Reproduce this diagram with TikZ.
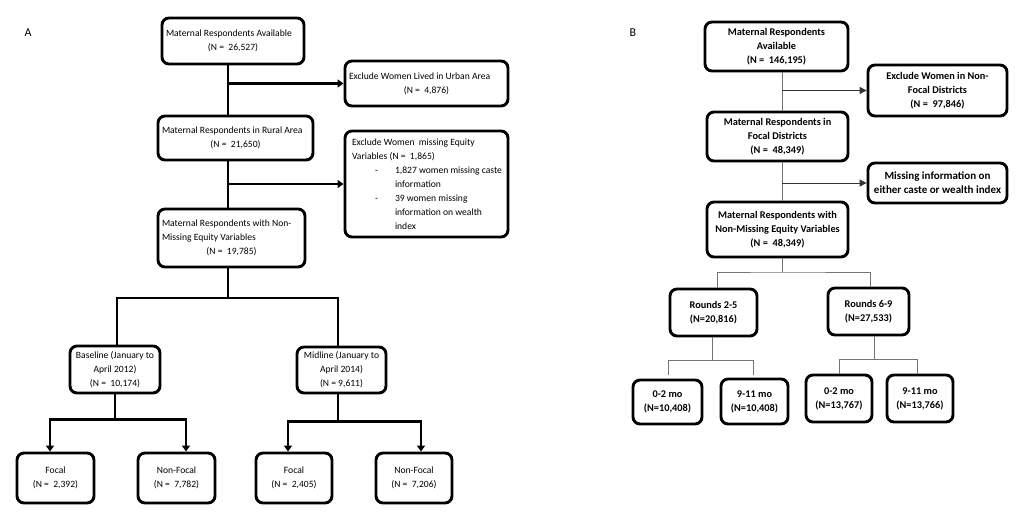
\documentclass[tikz,border=0pt]{standalone}
\usepackage{fontspec}
\setmainfont{Carlito}
\usetikzlibrary{arrows.meta,calc}
\newcommand\lcbox[3]{\parbox{#1pt}{\raggedright #2\par\centering #3\par}}
\begin{document}
\begin{tikzpicture}[x=1pt,y=-1pt,
  boxA/.style={draw, line width=2.9pt, rounded corners=7pt, inner sep=0pt, align=center, font=\fontsize{9.6}{14}\selectfont},
  boxB/.style={draw, line width=2.9pt, rounded corners=7pt, inner sep=0pt, align=center, font=\fontsize{10.3}{14}\selectfont\bfseries},
  lineA/.style={line width=2.3pt},
  arrA/.style={lineA, -{Triangle[length=6pt,width=8pt]}},
  lineB/.style={line width=1pt, draw=black!55},
  arrB/.style={line width=1pt, draw=black!80, -{Triangle[length=7pt,width=7pt]}},
  lab/.style={font=\fontsize{12}{14}\selectfont}
]
\useasboundingbox (0,0) rectangle (1024,517);

% ---------- Panel A ----------
\node[lab] (lA) at (28,33) {A};
\node[boxA, minimum width=142pt, minimum height=46pt] (a1) at (233,41)
  {\lcbox{134}{Maternal Respondents Available}{(N = \ 26,527)}};
\node[boxA, minimum width=163pt, minimum height=45pt] (ex1) at (426.5,83.5)
  {\lcbox{155}{Exclude Women Lived in Urban Area}{(N = \ 4,876)}};
\node[boxA, minimum width=155pt, minimum height=44pt] (a2) at (235.5,138)
  {\lcbox{147}{Maternal Respondents in Rural Area}{(N = \ 21,650)}};
\node[boxA, minimum width=163pt, minimum height=106pt] (ex2) at (426.5,184)
  {\parbox{149pt}{\raggedright Exclude Women \ missing Equity\\
   Variables (N = \ 1,865)\\
   \mbox{\makebox[43pt][l]{\hspace*{23pt}-}1,827 women missing caste}\\
   \hspace*{43pt}information\\
   \mbox{\makebox[43pt][l]{\hspace*{23pt}-}39 women missing}\\
   \hspace*{43pt}information on wealth\\
   \hspace*{43pt}index}};
\node[boxA, minimum width=147pt, minimum height=58pt] (a3) at (231.5,238)
  {\lcbox{139}{Maternal Respondents with Non-\\Missing Equity Variables}{(N = \ 19,785)}};
\node[boxA, minimum width=90pt, minimum height=47pt] (base) at (115,369.5)
  {Baseline (January to\\April 2012)\\(N = \ 10,174)};
\node[boxA, minimum width=89pt, minimum height=46pt] (mid) at (341.5,370)
  {Midline (January to\\April 2014)\\(N = 9,611)};
\node[boxA, minimum width=77pt, minimum height=50pt] (fa) at (55.5,478) {Focal\\(N = \ 2,392)};
\node[boxA, minimum width=77pt, minimum height=50pt] (fb) at (176.5,478) {Non-Focal\\(N = \ 7,782)};
\node[boxA, minimum width=76pt, minimum height=50pt] (fc) at (294,478) {Focal\\(N = \ 2,405)};
\node[boxA, minimum width=76pt, minimum height=50pt] (fd) at (414,478) {Non-Focal\\(N = \ 7,206)};

\coordinate (tA) at (228,0);
\coordinate (sA) at (228,298);
\draw[lineA] (tA |- a1.south) -- (tA |- a2.north);
\draw[arrA] (tA |- ex1.west) -- (ex1.west);
\draw[lineA] (tA |- a2.south) -- (tA |- a3.north);
\draw[arrA] (tA |- ex2.west) -- (ex2.west);
\draw[lineA] (tA |- a3.south) -- (sA);
\draw[lineA] ($(base.north)+(2,0)$) |- (sA) -| ($(mid.north)+(-3.5,0)$);
\draw[lineA] (base.south) -- ++(0,25) coordinate (jb);
\draw[arrA] (jb) -| ($(fa.north)+(-5.5,0)$);
\draw[arrA] (jb) -| ($(fb.north)+(9.5,0)$);
\draw[lineA] ($(mid.south)+(-3.5,0)$) -- ++(0,27) coordinate (jm);
\draw[arrA] (jm) -| ($(fc.north)+(-6,0)$);
\draw[arrA] (jm) -| ($(fd.north)+(7,0)$);

% ---------- Panel B ----------
\node[lab] (lB) at (633,33) {B};
\node[boxB, minimum width=143pt, minimum height=49pt] (b1) at (776.5,46.5)
  {Maternal Respondents\\Available\\(N = \ 146,195)};
\node[boxB, minimum width=139pt, minimum height=51pt] (eb1) at (937.5,90.5)
  {Exclude Women in Non-\\Focal Districts\\(N = \ 97,846)};
\node[boxB, minimum width=141pt, minimum height=49pt] (b2) at (777.5,136.5)
  {Maternal Respondents in\\Focal Districts\\(N = \ 48,349)};
\node[boxB, minimum width=139pt, minimum height=40pt, font=\fontsize{11}{14}\selectfont\bfseries] (eb2) at (937.5,183)
  {Missing information on\\either caste or wealth index};
\node[boxB, minimum width=141pt, minimum height=55pt] (b3) at (777.5,229.5)
  {Maternal Respondents with\\Non-Missing Equity Variables\\(N = \ 48,349)};
\node[boxB, minimum width=87pt, minimum height=47pt] (r1) at (713.5,312.5) {Rounds 2-5\\(N=20,816)};
\node[boxB, minimum width=81pt, minimum height=47pt] (r2) at (868.5,311.5) {Rounds 6-9\\(N=27,533)};
\node[boxB, minimum width=69pt, minimum height=44pt] (c1) at (667.5,402) {0-2 mo\\(N=10,408)};
\node[boxB, minimum width=67pt, minimum height=45pt] (c2) at (754.5,401.5) {9-11 mo\\(N=10,408)};
\node[boxB, minimum width=66pt, minimum height=47pt] (c3) at (839,398.5) {0-2 mo\\(N=13,767)};
\node[boxB, minimum width=66pt, minimum height=47pt] (c4) at (920,398.5) {9-11 mo\\(N=13,766)};

\coordinate (tB) at (782,0);
\coordinate (sB) at (782,272);
\draw[lineB] (tB |- b1.south) -- (tB |- b2.north);
\draw[arrB] (tB |- eb1.west) -- (eb1.west);
\draw[lineB] (tB |- b2.south) -- (tB |- b3.north);
\draw[arrB] (tB |- eb2.west) -- (eb2.west);
\draw[lineB] (tB |- b3.south) -- (sB);
\draw[lineB] ($(r1.north)+(3.5,0)$) |- (sB) -| ($(r2.north)+(1.5,0)$);
\draw[lineB] ($(r1.south)+(-1.5,0)$) -- ++(0,23) coordinate (jr1);
\draw[lineB] (jr1) -| ($(c1.north)+(0.5,-4)$);
\draw[lineB] (jr1) -| ($(c2.north)+(-1.5,-3)$);
\draw[lineB] ($(r2.south)+(5.5,0)$) -- ++(0,23) coordinate (jr2);
\draw[lineB] (jr2) -| (c3.north);
\draw[lineB] (jr2) -| ($(c4.north)+(-3,0)$);
\end{tikzpicture}
\end{document}
